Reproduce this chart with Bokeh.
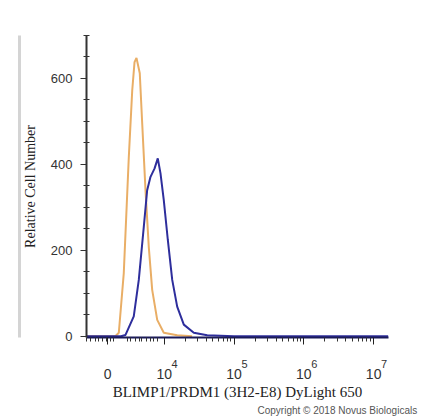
from bokeh.plotting import figure
from bokeh.models import Range1d, FixedTicker, LinearAxis, Title
from bokeh.embed import file_html
from bokeh.resources import INLINE
import math

# x positions are in display (biexponential) units where 10^k sits at k
iso_x = [2.89, 3.30, 3.350, 3.421, 3.493, 3.542, 3.575, 3.603, 3.650, 3.685, 3.732, 3.779, 3.828, 3.900, 3.994, 4.186, 4.40]
iso_y = [0, 0, 8, 147, 417, 572, 638, 648, 612, 495, 340, 208, 108, 38, 8, 2, 0]

stain_x = [2.89, 3.38, 3.446, 3.564, 3.636, 3.708, 3.756, 3.804, 3.861, 3.908, 3.947, 3.994, 4.052, 4.115, 4.186, 4.281, 4.424, 4.616, 5.0, 7.21]
stain_y = [0, 0, 3, 46, 131, 255, 340, 371, 390, 414, 379, 317, 224, 131, 69, 27, 8, 2, 0, 0]

x_tick_pos = [3.19, 4, 5, 6, 7]
x_tick_labels = ["0", "10", "10", "10", "10"]
x_exp_pos = [4, 5, 6, 7]
x_exponents = ["4", "5", "6", "7"]
x_minor_lin = [2.89, 2.94, 3.01, 3.06, 3.11, 3.17, 3.23, 3.28, 3.47, 3.52, 3.59, 3.64, 3.68, 3.75, 3.80, 3.85, 3.90]
x_minor_log = [d + math.log10(k) for d in (4, 5, 6) for k in range(2, 10)]
y_tick_pos = [0, 200, 400, 600]
y_minor = [50, 100, 150, 250, 300, 350, 450, 500, 550, 650, 700]

p = figure(width=445, height=418, output_backend="svg", toolbar_location=None,
           x_range=Range1d(2.887, 7.213), y_range=Range1d(-3, 700),
           x_axis_location=None,
           min_border_left=86, min_border_right=57, min_border_top=35, min_border_bottom=81)
p.outline_line_color = None
p.grid.visible = False
p.background_fill_color = "white"
p.border_fill_color = "white"

p.line(iso_x, iso_y, line_color="#E9AE66", line_width=2)
p.line(stain_x, stain_y, line_color="#2E2E9C", line_width=2)

# axis line + ticks (no labels)
xa = LinearAxis(ticker=FixedTicker(ticks=x_tick_pos, minor_ticks=x_minor_lin + x_minor_log))
xa.major_label_text_font_size = "1px"
xa.major_label_text_color = None
xa.major_label_standoff = 0
xa.axis_line_color = "#1a1a5a"
xa.axis_line_width = 2
xa.major_tick_out = 7
xa.major_tick_in = 0
xa.minor_tick_out = 4
xa.minor_tick_in = 0
xa.major_tick_line_color = "#222222"
xa.minor_tick_line_color = "#333333"
p.add_layout(xa, "below")

# exponents of the decade labels
xe = LinearAxis(ticker=FixedTicker(ticks=[v + 0.15 for v in x_exp_pos], minor_ticks=[]))
xe.major_label_overrides = {v + 0.15: e for v, e in zip(x_exp_pos, x_exponents)}
xe.major_label_text_font = "Liberation Sans"
xe.major_label_text_font_size = "11px"
xe.major_label_text_color = "#333333"
xe.major_label_standoff = 15
xe.axis_line_color = None
xe.major_tick_line_color = None
xe.minor_tick_line_color = None
xe.major_tick_out = 0
xe.major_tick_in = 0
xe.minor_tick_out = 0
xe.minor_tick_in = 0
p.add_layout(xe, "below")

# base labels and axis title
xb = LinearAxis(ticker=FixedTicker(ticks=x_tick_pos, minor_ticks=[]))
xb.major_label_overrides = dict(zip(x_tick_pos, x_tick_labels))
xb.major_label_text_font = "Liberation Sans"
xb.major_label_text_font_size = "14px"
xb.major_label_text_color = "#333333"
xb.major_label_standoff = -2
xb.axis_line_color = None
xb.major_tick_line_color = None
xb.minor_tick_line_color = None
xb.major_tick_out = 0
xb.major_tick_in = 0
xb.minor_tick_out = 0
xb.minor_tick_in = 0
xb.axis_label = "BLIMP1/PRDM1 (3H2-E8) DyLight 650"
xb.axis_label_text_font = "Liberation Serif"
xb.axis_label_text_font_style = "normal"
xb.axis_label_text_font_size = "15px"
xb.axis_label_text_color = "#222222"
xb.axis_label_standoff = 2
p.add_layout(xb, "below")

p.add_layout(Title(text="Copyright \u00a9 2018 Novus Biologicals", align="left", offset=171,
                   text_font="Liberation Sans", text_font_size="10px", text_font_style="normal",
                   text_color="#555555", standoff=0), "below")

ya = p.yaxis[0]
ya.ticker = FixedTicker(ticks=y_tick_pos, minor_ticks=y_minor)
ya.axis_label = "Relative Cell Number"
ya.axis_label_text_font = "Liberation Serif"
ya.axis_label_text_font_style = "normal"
ya.axis_label_text_font_size = "14px"
ya.axis_label_text_color = "#222222"
ya.axis_label_standoff = 10
ya.major_label_text_font = "Liberation Sans"
ya.major_label_text_font_size = "13px"
ya.major_label_text_color = "#333333"
ya.major_label_standoff = 8
ya.axis_line_color = "#333333"
ya.axis_line_width = 2
ya.major_tick_out = 6
ya.major_tick_in = 0
ya.minor_tick_out = 3
ya.minor_tick_in = 3
ya.major_tick_line_color = "#333333"
ya.minor_tick_line_color = "#333333"

# light grey frame edge of the source image
edge = LinearAxis(ticker=FixedTicker(ticks=[]), axis_line_color="#d4d4d4", axis_line_width=3,
                  major_tick_line_color=None, minor_tick_line_color=None,
                  major_label_text_color=None)
p.add_layout(edge, "left")

open("out.html", "w").write(file_html(p, INLINE))
